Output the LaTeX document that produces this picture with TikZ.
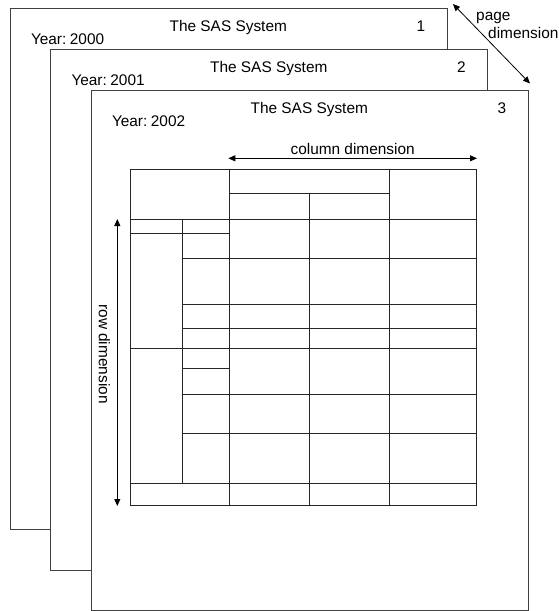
\documentclass[tikz,border=0pt]{standalone}
\usepackage{fontspec}
\setmainfont{Liberation Sans}
\usepackage{tikz}
\usetikzlibrary{arrows.meta,positioning}

\begin{document}
\begin{tikzpicture}[
    x=1pt,
    y=-1pt,
    page/.style={draw=black!75, fill=white, line width=0.9pt},
    rule/.style={draw=black!85, line width=0.9pt},
    dimarrow/.style={{Triangle[length=7pt,width=6pt]}-{Triangle[length=7pt,width=6pt]}, line width=0.8pt},
    lbl/.style={inner sep=0pt, font=\fontsize{15.4}{18}\selectfont},
  ]
    \useasboundingbox (0,0) rectangle (558,611);

    % ── Pages, back to front ──
    \draw[page] (10.3,8) rectangle (447,529);
    \node[lbl, anchor=base]      (title1) at (228.3,31.3) {The SAS System};
    \node[lbl, anchor=base]      (num1)   at (420.8,31.3) {1};
    \node[lbl, anchor=base west] (year1)  at (30.8,44.7)  {Year:\hspace{3.5pt}2000};

    \draw[page] (50.8,49) rectangle (487.5,570);
    \node[lbl, anchor=base]      (title2) at (268.8,72.3) {The SAS System};
    \node[lbl, anchor=base]      (num2)   at (461.3,72.3) {2};
    \node[lbl, anchor=base west] (year2)  at (71.3,85.7)  {Year:\hspace{3.5pt}2001};

    \draw[page] (91.3,90) rectangle (528,610.2);
    \node[lbl, anchor=base]      (title3) at (309.3,113.3) {The SAS System};
    \node[lbl, anchor=base]      (num3)   at (501.8,113.3) {3};
    \node[lbl, anchor=base west] (year3)  at (111.8,126.7) {Year:\hspace{3.5pt}2002};

    % ── Page dimension ──
    \coordinate (pgA) at (453,4);
    \coordinate (pgB) at (530,83.5);
    \draw[dimarrow] (pgA) -- (pgB);
    \node[lbl, anchor=base west] (pglbl)  at (476,20) {page};
    \node[lbl, anchor=base west] (pglbl2) at (488,38) {dimension};

    % ── Table grid ──
    \draw[rule] (130.7,169.3) rectangle (476,505);
    % horizontal rules
    \draw[rule] (229.3,193.3) -- (389.3,193.3);
    \draw[rule] (130.7,219.7) -- (476,219.7);
    \draw[rule] (130.7,233.7) -- (229.3,233.7);
    \draw[rule] (182.3,258.7) -- (476,258.7);
    \draw[rule] (182.3,304.3) -- (476,304.3);
    \draw[rule] (182.3,328.3) -- (476,328.3);
    \draw[rule] (130.7,348.3) -- (476,348.3);
    \draw[rule] (182.3,368.7) -- (229.3,368.7);
    \draw[rule] (182.3,394)   -- (476,394);
    \draw[rule] (182.3,433.3) -- (476,433.3);
    \draw[rule] (130.7,483.3) -- (476,483.3);
    % vertical rules
    \draw[rule] (182.3,219.7) -- (182.3,483.3);
    \draw[rule] (229.3,169.3) -- (229.3,505);
    \draw[rule] (309.3,193.3) -- (309.3,505);
    \draw[rule] (389.3,169.3) -- (389.3,505);

    % ── Column dimension ──
    \coordinate (colL) at (228.3,158.3);
    \coordinate (colR) at (477,158.3);
    \draw[dimarrow] (colL) -- node[lbl, above=3pt] (collbl) {column dimension} (colR);

    % ── Row dimension ──
    \coordinate (rowT) at (117.3,219);
    \coordinate (rowB) at (117.3,506);
    \draw[dimarrow] (rowT) -- (rowB);
    \node[lbl, rotate=-90] (rowlbl) at (104.5,354) {row dimension};
  \end{tikzpicture}
\end{document}
